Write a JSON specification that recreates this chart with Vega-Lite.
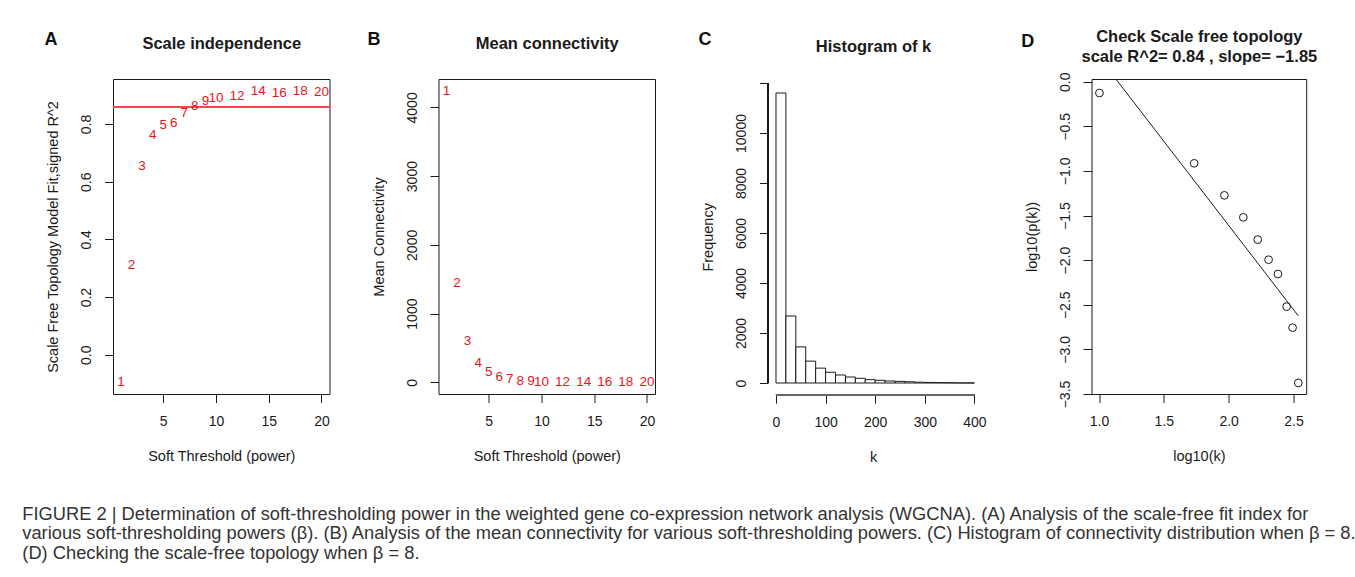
{
  "$schema": "https://vega.github.io/schema/vega-lite/v6.json",
  "padding": {"left": 22, "top": 27, "right": 0, "bottom": 0},
  "background": "white",
  "config": {
    "font": "Liberation Sans",
    "view": {"stroke": "#1a1a1a", "strokeWidth": 1},
    "axis": {"grid": false, "domain": false, "tickColor": "#1a1a1a", "tickSize": 8.5, "labelFontSize": 14, "labelColor": "#1a1a1a", "titleFontSize": 14.5, "titleFontWeight": "normal", "titleColor": "#1a1a1a", "labelFlush": false, "labelOverlap": false, "labelBound": false},
    "axisX": {"labelPadding": 12, "titlePadding": 21},
    "axisY": {"labelAngle": -90, "labelAlign": "center", "labelBaseline": "bottom", "labelPadding": 11, "titlePadding": 19},
    "title": {"fontSize": 18, "fontWeight": "bold", "color": "#111111", "anchor": "start", "frame": "group", "baseline": "alphabetic", "offset": 0}
  },
  "title": {
    "text": [
      "FIGURE 2 | Determination of soft-thresholding power in the weighted gene co-expression network analysis (WGCNA). (A) Analysis of the scale-free fit index for",
      "various soft-thresholding powers (β). (B) Analysis of the mean connectivity for various soft-thresholding powers. (C) Histogram of connectivity distribution when β = 8.",
      "(D) Checking the scale-free topology when β = 8."
    ],
    "orient": "bottom", "anchor": "start", "frame": "group", "dx": -90.7, "offset": 42,
    "fontSize": 18.3, "font": "Liberation Sans", "fontWeight": "normal", "color": "#333333", "lineHeight": 19.8, "baseline": "top"
  },
  "bounds": "flush",
  "spacing": 108.5,
  "hconcat": [
    {
      "width": 216.5, "height": 315,
      "title": {"text": "A", "dx": -68.4, "dy": 17.7},
      "data": {"values": [
        {"power": 1, "r2": -0.096}, {"power": 2, "r2": 0.311}, {"power": 3, "r2": 0.653},
        {"power": 4, "r2": 0.763}, {"power": 5, "r2": 0.797}, {"power": 6, "r2": 0.804},
        {"power": 7, "r2": 0.838}, {"power": 8, "r2": 0.861}, {"power": 9, "r2": 0.879},
        {"power": 10, "r2": 0.890}, {"power": 12, "r2": 0.896}, {"power": 14, "r2": 0.913},
        {"power": 16, "r2": 0.907}, {"power": 18, "r2": 0.915}, {"power": 20, "r2": 0.912}
      ]},
      "layer": [
        {"mark": {"type": "rule", "color": "#f04a4a", "strokeWidth": 1.2}, "encoding": {"y": {"datum": 0.86, "type": "quantitative"}}},
        {"mark": {"type": "text", "color": "#e8141c", "fontSize": 13.5, "baseline": "middle", "align": "center"},
         "encoding": {
           "x": {"field": "power", "type": "quantitative", "scale": {"domain": [0.24, 20.76], "nice": false, "zero": false}, "axis": {"values": [5, 10, 15, 20], "title": "Soft Threshold (power)"}},
           "y": {"field": "r2", "type": "quantitative", "scale": {"domain": [-0.136, 0.956], "nice": false, "zero": false}, "axis": {"values": [0, 0.2, 0.4, 0.6, 0.8], "format": ".1f", "title": "Scale Free Topology Model Fit,signed R^2"}},
           "text": {"field": "power", "type": "quantitative"}
         }},
        {"mark": {"type": "point", "opacity": 0},
         "encoding": {"x": {"field": "power", "type": "quantitative", "axis": {"orient": "top", "title": "Scale independence", "labels": false, "ticks": false, "domain": false, "titleFontSize": 16.5, "titleFontWeight": "bold", "titleBaseline": "alphabetic", "titlePadding": 30.3}}}}
      ],
      "resolve": {"axis": {"x": "independent"}}
    },
    {
      "width": 216.5, "height": 315,
      "title": {"text": "B", "dx": -71, "dy": 17.7},
      "data": {"values": [
        {"power": 1, "k": 4243}, {"power": 2, "k": 1446}, {"power": 3, "k": 607},
        {"power": 4, "k": 282}, {"power": 5, "k": 156}, {"power": 6, "k": 83},
        {"power": 7, "k": 49}, {"power": 8, "k": 25}, {"power": 9, "k": 15},
        {"power": 10, "k": 10}, {"power": 12, "k": 4}, {"power": 14, "k": 2},
        {"power": 16, "k": 1}, {"power": 18, "k": 0.5}, {"power": 20, "k": 0.3}
      ]},
      "layer": [
        {"mark": {"type": "text", "color": "#e8141c", "fontSize": 13.5, "baseline": "middle", "align": "center"},
         "encoding": {
           "x": {"field": "power", "type": "quantitative", "scale": {"domain": [0.24, 20.76], "nice": false, "zero": false}, "axis": {"values": [5, 10, 15, 20], "title": "Soft Threshold (power)"}},
           "y": {"field": "k", "type": "quantitative", "scale": {"domain": [-170, 4413], "nice": false, "zero": false}, "axis": {"values": [0, 1000, 2000, 3000, 4000], "format": "d", "title": "Mean Connectivity"}},
           "text": {"field": "power", "type": "quantitative"}
         }},
        {"mark": {"type": "point", "opacity": 0},
         "encoding": {"x": {"field": "power", "type": "quantitative", "axis": {"orient": "top", "title": "Mean connectivity", "labels": false, "ticks": false, "domain": false, "titleFontSize": 16.5, "titleFontWeight": "bold", "titleBaseline": "alphabetic", "titlePadding": 30.3}}}}
      ],
      "resolve": {"axis": {"x": "independent"}}
    },
    {
      "width": 218.1, "height": 315.7,
      "view": {"stroke": null},
      "title": {"text": "C", "dx": -65.4, "dy": 15.3},
      "data": {"values": [
        {"k0": 0, "k1": 20, "n": 11600}, {"k0": 20, "k1": 40, "n": 2680}, {"k0": 40, "k1": 60, "n": 1445},
        {"k0": 60, "k1": 80, "n": 875}, {"k0": 80, "k1": 100, "n": 595}, {"k0": 100, "k1": 120, "n": 430},
        {"k0": 120, "k1": 140, "n": 320}, {"k0": 140, "k1": 160, "n": 240}, {"k0": 160, "k1": 180, "n": 187},
        {"k0": 180, "k1": 200, "n": 133}, {"k0": 200, "k1": 220, "n": 107}, {"k0": 220, "k1": 240, "n": 80},
        {"k0": 240, "k1": 260, "n": 65}, {"k0": 260, "k1": 280, "n": 50}, {"k0": 280, "k1": 300, "n": 32},
        {"k0": 300, "k1": 320, "n": 22}, {"k0": 320, "k1": 340, "n": 15}, {"k0": 340, "k1": 360, "n": 10},
        {"k0": 360, "k1": 380, "n": 5}, {"k0": 380, "k1": 400, "n": 3}
      ]},
      "layer": [
        {"mark": {"type": "rule", "color": "#666666", "strokeWidth": 1.3},
         "encoding": {"x": {"datum": 0, "type": "quantitative", "axis": null}, "x2": {"datum": 400}, "y": {"datum": -468, "type": "quantitative"}}},
        {"mark": {"type": "rule", "color": "#1a1a1a", "strokeWidth": 1},
         "encoding": {"x": {"datum": -16, "type": "quantitative", "axis": null}, "y": {"datum": 0, "type": "quantitative"}, "y2": {"datum": 12000}}},
        {"mark": {"type": "rect", "fill": "white", "stroke": "#1a1a1a", "strokeWidth": 1},
         "encoding": {
           "x": {"field": "k0", "type": "quantitative", "scale": {"domain": [-24.16, 415.5], "nice": false, "zero": false}, "axis": {"values": [0, 100, 200, 300, 400], "title": "k"}},
           "x2": {"field": "k1"},
           "y": {"field": "n", "type": "quantitative", "scale": {"domain": [-468, 12160], "nice": false, "zero": false}, "axis": {"values": [0, 2000, 4000, 6000, 8000, 10000, 12000], "format": "d", "labelExpr": "datum.value == 12000 ? '' : datum.label", "title": "Frequency", "offset": -4}},
           "y2": {"datum": 0}
         }},
        {"mark": {"type": "point", "opacity": 0},
         "encoding": {"x": {"field": "k0", "type": "quantitative", "axis": {"orient": "top", "title": "Histogram of k", "labels": false, "ticks": false, "domain": false, "titleFontSize": 16.5, "titleFontWeight": "bold", "titleBaseline": "alphabetic", "titlePadding": 27.9}}}}
      ],
      "resolve": {"axis": {"x": "independent"}}
    },
    {
      "width": 214.7, "height": 315,
      "title": {"text": "D", "dx": -70.3, "dy": 26.9},
      "data": {"values": [
        {"lk": 1.003, "lp": -0.127, "fit": 0.269},
        {"lk": 1.734, "lp": -0.915, "fit": -1.109},
        {"lk": 1.967, "lp": -1.274, "fit": -1.549},
        {"lk": 2.113, "lp": -1.520, "fit": -1.824},
        {"lk": 2.224, "lp": -1.770, "fit": -2.033},
        {"lk": 2.308, "lp": -1.995, "fit": -2.192},
        {"lk": 2.380, "lp": -2.155, "fit": -2.328},
        {"lk": 2.447, "lp": -2.521, "fit": -2.454},
        {"lk": 2.493, "lp": -2.757, "fit": -2.541},
        {"lk": 2.537, "lp": -3.376, "fit": -2.624}
      ]},
      "layer": [
        {"mark": {"type": "line", "color": "#1a1a1a", "strokeWidth": 1, "clip": true},
         "encoding": {
           "x": {"field": "lk", "type": "quantitative", "scale": {"domain": [0.942, 2.598], "nice": false, "zero": false}, "axis": {"values": [1, 1.5, 2, 2.5], "format": ".1f", "title": "log10(k)"}},
           "y": {"field": "fit", "type": "quantitative", "scale": {"domain": [-3.5, 0.03], "nice": false, "zero": false}, "axis": {"values": [0, -0.5, -1, -1.5, -2, -2.5, -3, -3.5], "format": ".1f", "title": "log10(p(k))"}}
         }},
        {"mark": {"type": "point", "shape": "circle", "filled": false, "color": "#1a1a1a", "size": 60, "strokeWidth": 1, "opacity": 1},
         "encoding": {
           "x": {"field": "lk", "type": "quantitative", "axis": null},
           "y": {"field": "lp", "type": "quantitative"}
         }},
        {"mark": {"type": "point", "opacity": 0},
         "encoding": {"x": {"field": "lk", "type": "quantitative", "axis": {"orient": "top", "title": ["Check Scale free topology", "scale R^2= 0.84 , slope= −1.85"], "labels": false, "ticks": false, "domain": false, "titleFontSize": 16.5, "titleFontWeight": "bold", "titleBaseline": "alphabetic", "titleLineHeight": 20, "titlePadding": 17.6}}}}
      ],
      "resolve": {"axis": {"x": "independent"}}
    }
  ]
}
